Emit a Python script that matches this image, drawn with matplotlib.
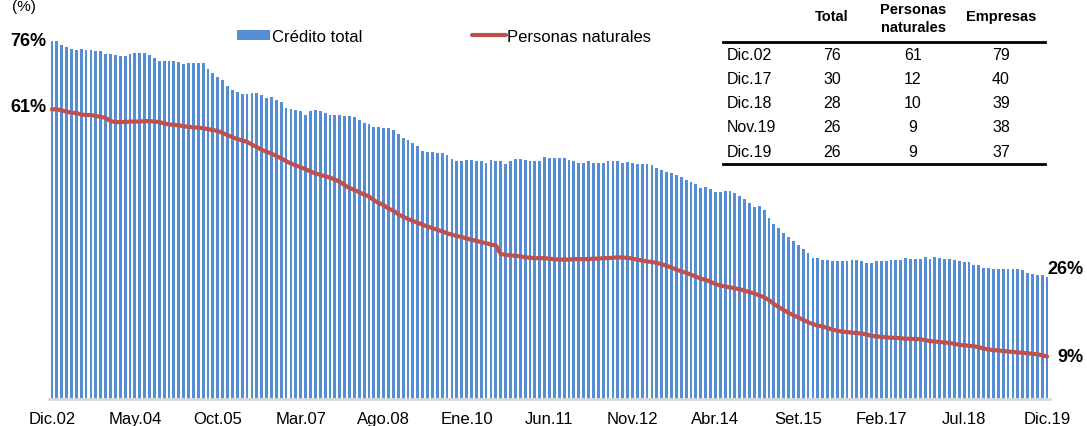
import matplotlib
matplotlib.use("Agg")
import matplotlib.pyplot as plt
import numpy as np

plt.rcParams["font.family"] = ["Liberation Sans", "DejaVu Sans"]

# Monthly ratio, Dic.02 .. Dic.19 (%)
credito_total = [
    76.0, 76.0, 75.2, 74.8, 74.4, 74.2, 74.3, 74.1, 74.1, 73.8,
    73.8, 73.3, 73.2, 73.0, 72.9, 72.8, 73.2, 73.4, 73.4, 73.5,
    73.0, 72.4, 71.7, 71.7, 71.7, 71.7, 71.5, 71.1, 71.3, 71.3,
    71.4, 71.3, 70.0, 69.2, 68.4, 67.7, 66.4, 65.5, 65.2, 64.7,
    64.7, 65.0, 65.0, 64.6, 64.0, 64.2, 63.4, 63.0, 61.7, 61.6,
    61.3, 61.1, 60.4, 61.1, 61.4, 61.1, 60.7, 60.3, 60.4, 60.2,
    60.1, 60.1, 59.8, 59.3, 58.7, 58.3, 57.7, 57.7, 57.6, 57.5,
    57.2, 56.3, 55.5, 55.0, 54.3, 53.7, 52.7, 52.4, 52.4, 52.2,
    52.2, 51.7, 50.9, 50.5, 50.5, 50.7, 50.7, 50.6, 50.5, 50.2,
    50.7, 50.6, 50.6, 49.9, 50.6, 51.0, 50.9, 50.8, 50.5, 50.5,
    50.6, 51.3, 51.1, 51.1, 51.1, 51.1, 50.8, 50.5, 50.2, 50.2,
    50.5, 50.1, 50.2, 50.2, 50.5, 50.5, 50.5, 50.2, 50.4, 50.2,
    50.0, 50.0, 49.8, 49.7, 49.1, 48.6, 48.2, 47.9, 47.6, 47.1,
    46.5, 46.0, 45.6, 44.9, 45.0, 44.5, 43.9, 43.9, 44.2, 44.2,
    43.7, 43.2, 42.5, 41.7, 40.7, 40.9, 40.2, 38.5, 37.2, 36.4,
    35.2, 34.5, 33.5, 32.6, 31.8, 30.9, 29.9, 29.9, 29.5, 29.5,
    29.2, 29.2, 29.3, 29.4, 29.5, 29.6, 29.3, 28.9, 28.9, 29.3,
    29.4, 29.4, 29.6, 29.6, 29.6, 29.9, 29.7, 29.7, 29.7, 30.1,
    29.7, 30.1, 30.0, 29.7, 29.7, 29.5, 29.2, 29.0, 29.0, 28.5,
    28.5, 27.9, 27.9, 27.6, 27.6, 27.6, 27.6, 27.5, 27.5, 27.3,
    26.8, 26.5, 26.4, 26.4, 25.9,
]

personas_naturales = [
    61.5, 61.5, 61.3, 61.0, 60.8, 60.7, 60.4, 60.3, 60.3, 60.1,
    59.9, 59.7, 59.0, 58.8, 58.8, 58.8, 58.9, 58.9, 58.9, 59.0,
    59.0, 58.9, 58.8, 58.5, 58.3, 58.2, 58.1, 57.9, 57.8, 57.7,
    57.6, 57.5, 57.3, 57.1, 56.9, 56.5, 56.0, 55.6, 55.2, 54.9,
    54.6, 54.0, 53.5, 52.9, 52.5, 52.1, 51.6, 51.1, 50.5, 50.0,
    49.6, 49.2, 48.8, 48.3, 47.9, 47.6, 47.3, 47.0, 46.6, 46.1,
    45.4, 44.8, 44.4, 43.9, 43.4, 43.0, 42.2, 41.6, 41.2, 40.4,
    40.0, 39.2, 38.7, 38.2, 37.8, 37.4, 37.0, 36.6, 36.3, 35.9,
    35.6, 35.2, 34.9, 34.6, 34.4, 34.1, 33.8, 33.6, 33.3, 33.1,
    32.8, 32.6, 30.8, 30.6, 30.5, 30.4, 30.3, 30.1, 30.0, 29.9,
    29.9, 29.9, 29.8, 29.7, 29.6, 29.6, 29.6, 29.7, 29.7, 29.7,
    29.7, 29.8, 29.8, 29.9, 29.9, 30.0, 30.1, 30.0, 30.0, 29.8,
    29.6, 29.4, 29.2, 29.1, 28.9, 28.6, 28.3, 27.9, 27.5, 27.1,
    26.8, 26.4, 26.0, 25.6, 25.3, 24.9, 24.4, 24.1, 23.9, 23.7,
    23.5, 23.3, 23.0, 22.7, 22.4, 22.0, 21.6, 21.0, 20.2, 19.5,
    18.9, 18.3, 17.8, 17.3, 16.8, 16.3, 15.9, 15.6, 15.4, 15.1,
    14.7, 14.5, 14.3, 14.2, 14.1, 14.0, 13.9, 13.7, 13.4, 13.3,
    13.2, 13.1, 13.0, 13.0, 12.9, 12.8, 12.8, 12.7, 12.7, 12.5,
    12.3, 12.2, 12.1, 12.0, 11.9, 11.7, 11.5, 11.4, 11.3, 11.2,
    11.0, 10.7, 10.5, 10.4, 10.3, 10.2, 10.1, 10.0, 9.9, 9.8,
    9.7, 9.6, 9.5, 9.3, 9.0,
]

tick_labels = ["Dic.02", "May.04", "Oct.05", "Mar.07", "Ago.08", "Ene.10", "Jun.11",
               "Nov.12", "Abr.14", "Set.15", "Feb.17", "Jul.18", "Dic.19"]

# inset table
table_cols = ["Total", "Personas\nnaturales", "Empresas"]
table_rows = ["Dic.02", "Dic.17", "Dic.18", "Nov.19", "Dic.19"]
table_total = [76, 30, 28, 26, 26]
table_pn = [61, 12, 10, 9, 9]
table_emp = [79, 40, 39, 38, 37]

W, H = 1087, 427
BLUE = "#558ED5"
RED = "#C0504D"


def fx(x):
    return x / W


def fy(y):
    return 1 - y / H


fig = plt.figure(figsize=(W / 100, H / 100), dpi=100)
ax = fig.add_axes([fx(49), fy(400), fx(1001), 376.8 / H])

n = len(credito_total)
x = np.arange(n)
bars = ax.bar(x, credito_total, width=0.58, color=BLUE, linewidth=0)
line, = ax.plot(x, personas_naturales, color=RED, lw=3, solid_capstyle="round")

ax.set_xlim(-0.6, n - 0.4)
ax.set_ylim(0, 80)
ax.set_yticks([])
ax.set_xticks(x[::17])
ax.set_xticklabels(tick_labels, fontsize=12)
ax.tick_params(axis="x", length=0, pad=9)
for s in ["top", "right", "left"]:
    ax.spines[s].set_visible(False)
ax.spines["bottom"].set_color("#D9D9D9")
ax.spines["bottom"].set_linewidth(2)

# end labels
lab = dict(fontsize=13, fontweight="bold", va="center")
fig.text(fx(10), fy(42), "%d%%" % table_total[0], ha="left", **lab)
fig.text(fx(10), fy(108), "%d%%" % table_pn[0], ha="left", **lab)
fig.text(fx(1084), fy(270), "%d%%" % table_total[-1], ha="right", **lab)
fig.text(fx(1084), fy(358), "%d%%" % table_pn[-1], ha="right", **lab)
fig.text(fx(12), fy(0), "(%)", fontsize=11, ha="left", va="top")

# legend
fig.legend([bars, line], ["Crédito total", "Personas naturales"],
           loc="center left", bbox_to_anchor=(fx(222), fy(37)), ncol=2, frameon=False,
           fontsize=12, handlelength=2.0, handleheight=0.55, handletextpad=0.1,
           columnspacing=6.6)

# table
col_x = [832, 913, 1001]
fig.text(fx(col_x[0]), fy(17), table_cols[0], ha="center", va="center", fontsize=10.5, fontweight="bold")
fig.text(fx(col_x[1]), fy(19), table_cols[1], ha="center", va="center", fontsize=10.5,
         fontweight="bold", linespacing=1.3)
fig.text(fx(col_x[2]), fy(17), table_cols[2], ha="center", va="center", fontsize=10.5, fontweight="bold")
row_y = [55, 79, 104, 128, 153]
for i, r in enumerate(table_rows):
    fig.text(fx(727), fy(row_y[i]), r, ha="left", va="center", fontsize=11.5)
    for cx, vals in zip(col_x, [table_total, table_pn, table_emp]):
        fig.text(fx(cx), fy(row_y[i]), str(vals[i]), ha="center", va="center", fontsize=11.5)
for yy in [43, 165]:
    fig.add_artist(plt.Line2D([fx(723), fx(1045)], [fy(yy), fy(yy)], color="black", lw=2))

fig.savefig("out.png", dpi=100)
